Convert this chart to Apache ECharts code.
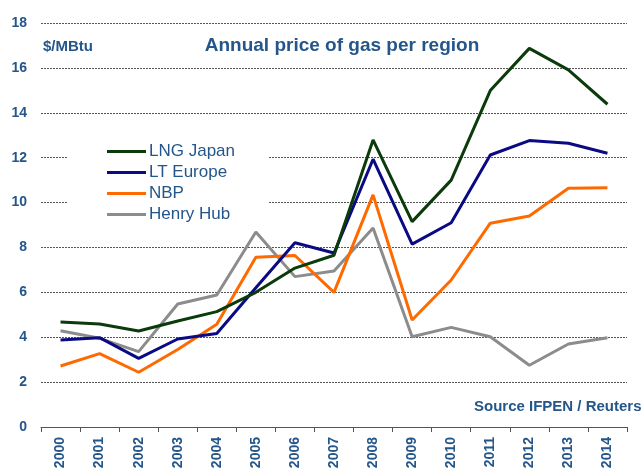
<!DOCTYPE html>
<html>
<head>
<meta charset="utf-8">
<script src="https://cdn.jsdelivr.net/npm/echarts@6/dist/echarts.min.js"></script>
<style>html,body{margin:0;padding:0;background:#fff}#c{width:641px;height:468px}</style>
</head>
<body>
<div id="c"></div>
<script>
var years = ['2000','2001','2002','2003','2004','2005','2006','2007','2008','2009','2010','2011','2012','2013','2014'];
var lngJapan  = [4.68, 4.59, 4.28, 4.72, 5.14, 6.0, 7.08, 7.65, 12.79, 9.15, 11.0, 14.99, 16.87, 15.91, 14.38];
var ltEurope  = [3.88, 3.98, 3.06, 3.92, 4.17, 6.2, 8.21, 7.75, 11.93, 8.15, 9.1, 12.12, 12.76, 12.64, 12.2];
var nbp       = [2.72, 3.27, 2.44, 3.45, 4.58, 7.56, 7.64, 6.0, 10.34, 4.77, 6.55, 9.08, 9.4, 10.64, 10.66];
var henryHub  = [4.29, 3.95, 3.36, 5.48, 5.88, 8.69, 6.7, 6.95, 8.87, 4.02, 4.44, 4.02, 2.75, 3.7, 3.98];
var seriesNames = ['LNG Japan', 'LT Europe', 'NBP', 'Henry Hub'];
var yTicks = [0, 2, 4, 6, 8, 10, 12, 14, 16, 18];

var txt = '#24568a';
var colors = ['#0b3a0b', '#0a0a85', '#ff6a00', '#8c8c8c'];
var data = [lngJapan, ltEurope, nbp, henryHub];

var chart = echarts.init(document.getElementById('c'), null, {renderer: 'canvas'});
chart.setOption({
  animation: false,
  backgroundColor: '#fff',
  color: colors,
  grid: {left: 41, right: 14, top: 23, bottom: 41, containLabel: false, outerBoundsMode: 'none'},
  xAxis: {
    type: 'category',
    data: years,
    boundaryGap: true,
    axisLine: {lineStyle: {color: '#555', width: 1}},
    axisTick: {show: true, inside: false, length: 5, lineStyle: {color: '#555'}},
    axisLabel: {rotate: 90, color: txt, fontFamily: 'Liberation Sans, Arial', fontWeight: 'bold', fontSize: 14, margin: 10}
  },
  yAxis: {
    type: 'value',
    min: yTicks[0],
    max: yTicks[yTicks.length - 1],
    interval: 2,
    axisLine: {show: false},
    axisTick: {show: false},
    splitLine: {show: true, lineStyle: {color: '#555', width: 1, type: [2, 1]}},
    axisLabel: {color: txt, fontFamily: 'Liberation Sans, Arial', fontWeight: 'bold', fontSize: 14, margin: 14}
  },
  legend: {
    orient: 'vertical',
    left: 68,
    top: 140,
    padding: [3, 34, 3, 39],
    backgroundColor: '#fff',
    icon: 'rect',
    itemWidth: 39,
    itemHeight: 3,
    itemGap: 4,
    data: seriesNames,
    textStyle: {color: txt, fontFamily: 'Liberation Sans, Arial', fontSize: 17, lineHeight: 17, padding: [0, 0, 0, -2]}
  },
  title: {
    text: 'Annual price of gas per region',
    left: 337,
    textAlign: 'center',
    top: 31,
    textStyle: {color: txt, fontFamily: 'Liberation Sans, Arial', fontWeight: 'bold', fontSize: 19}
  },
  graphic: [
    {type: 'text', left: 43, top: 39, style: {text: '$/MBtu', fill: txt, font: 'bold 15px "Liberation Sans", Arial'}},
    {type: 'text', left: 474, top: 399, style: {text: 'Source IFPEN / Reuters', fill: txt, font: 'bold 15px "Liberation Sans", Arial'}}
  ],
  series: seriesNames.map(function (n, i) {
    return {
      name: n,
      type: 'line',
      data: data[i],
      showSymbol: false,
      symbol: 'none',
      lineStyle: {width: 3, color: colors[i]},
      z: 10 - i
    };
  })
});
</script>
</body>
</html>
